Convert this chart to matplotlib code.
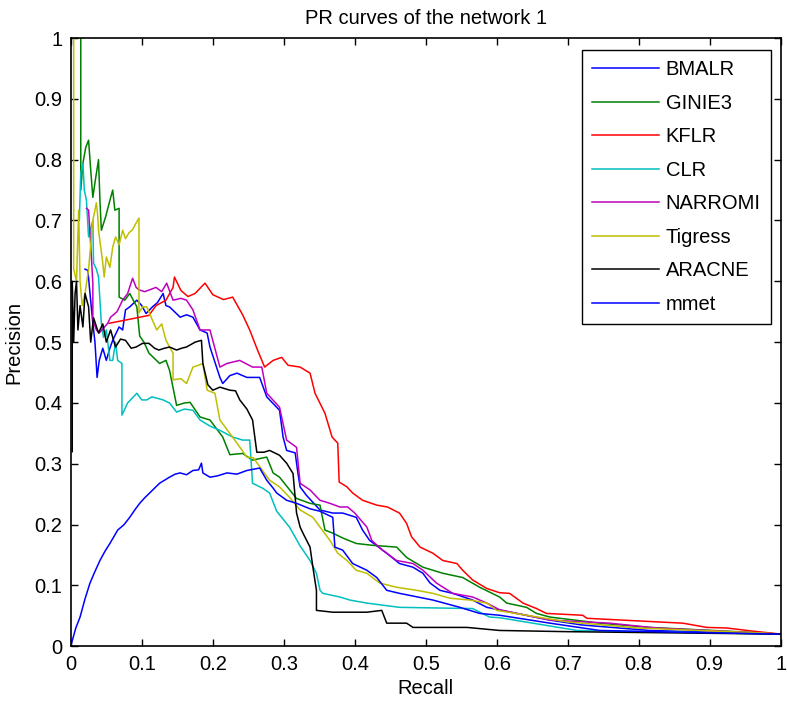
import matplotlib
matplotlib.use("Agg")
import matplotlib.pyplot as plt

plt.rcParams['font.family'] = ['Liberation Sans', 'DejaVu Sans']

# recall / precision
bmalr_r = [0.02, 0.024, 0.027, 0.031, 0.034, 0.037, 0.04, 0.045, 0.05, 0.055, 0.059, 0.068, 0.073, 0.077,
           0.083, 0.093, 0.1, 0.106, 0.115, 0.122, 0.13, 0.134, 0.139, 0.154, 0.163, 0.172, 0.182, 0.192,
           0.196, 0.21, 0.214, 0.224, 0.234, 0.248, 0.266, 0.276, 0.294, 0.299, 0.304, 0.316, 0.32, 0.323,
           0.332, 0.351, 0.369, 0.383, 0.402, 0.411, 0.421, 0.445, 0.463, 0.482, 0.496, 0.506, 0.52, 0.538,
           0.566, 0.586, 0.628, 0.675, 0.72, 0.815, 1.0]
bmalr_p = [0.62, 0.618, 0.58, 0.531, 0.5, 0.442, 0.47, 0.49, 0.47, 0.49, 0.503, 0.525, 0.52, 0.553,
           0.558, 0.569, 0.56, 0.547, 0.558, 0.565, 0.58, 0.56, 0.558, 0.541, 0.545, 0.541, 0.52, 0.515,
           0.492, 0.442, 0.432, 0.445, 0.449, 0.442, 0.442, 0.41, 0.388, 0.344, 0.322, 0.318, 0.284, 0.262,
           0.248, 0.224, 0.219, 0.219, 0.212, 0.191, 0.174, 0.153, 0.136, 0.13, 0.12, 0.104, 0.092, 0.087,
           0.076, 0.064, 0.054, 0.043, 0.035, 0.026, 0.02]

ginie_r = [0.014, 0.014, 0.017, 0.021, 0.025, 0.028, 0.031, 0.035, 0.039, 0.041, 0.043, 0.049, 0.055,
           0.059, 0.062, 0.068, 0.068, 0.076, 0.083, 0.093, 0.097, 0.103, 0.11, 0.125, 0.134, 0.139, 0.149,
           0.16, 0.168, 0.182, 0.196, 0.214, 0.224, 0.242, 0.256, 0.276, 0.285, 0.294, 0.318, 0.337, 0.351,
           0.358, 0.369, 0.383, 0.402, 0.425, 0.459, 0.473, 0.496, 0.524, 0.552, 0.576, 0.604, 0.614, 0.642,
           0.656, 0.675, 0.745, 0.815, 0.956, 1.0]
ginie_p = [1.0, 0.75, 0.794, 0.82, 0.832, 0.783, 0.738, 0.77, 0.8, 0.733, 0.684, 0.706, 0.733,
           0.75, 0.717, 0.72, 0.574, 0.569, 0.58, 0.558, 0.51, 0.5, 0.482, 0.465, 0.47, 0.454, 0.396,
           0.4, 0.401, 0.377, 0.372, 0.344, 0.315, 0.317, 0.306, 0.311, 0.285, 0.278, 0.243, 0.235, 0.232,
           0.191, 0.186, 0.178, 0.169, 0.166, 0.163, 0.146, 0.13, 0.12, 0.113, 0.097, 0.081, 0.071, 0.064,
           0.054, 0.048, 0.038, 0.031, 0.023, 0.02]

kflr_r = [0.054, 0.08, 0.11, 0.12, 0.134, 0.144, 0.146, 0.155, 0.165, 0.175, 0.189, 0.2, 0.215, 0.228,
          0.242, 0.252, 0.263, 0.273, 0.285, 0.297, 0.306, 0.323, 0.337, 0.344, 0.358, 0.368, 0.376, 0.378,
          0.389, 0.397, 0.411, 0.431, 0.446, 0.463, 0.473, 0.48, 0.492, 0.51, 0.524, 0.544, 0.552, 0.566,
          0.586, 0.604, 0.618, 0.637, 0.656, 0.67, 0.721, 0.727, 0.777, 0.862, 0.896, 0.924, 0.96, 1.0]
kflr_p = [0.531, 0.537, 0.544, 0.56, 0.569, 0.59, 0.607, 0.585, 0.575, 0.58, 0.597, 0.578, 0.57, 0.574,
          0.545, 0.52, 0.487, 0.459, 0.47, 0.475, 0.462, 0.459, 0.449, 0.416, 0.383, 0.344, 0.334, 0.27,
          0.262, 0.252, 0.24, 0.232, 0.229, 0.219, 0.202, 0.18, 0.163, 0.153, 0.141, 0.136, 0.125, 0.109,
          0.095, 0.088, 0.087, 0.071, 0.062, 0.054, 0.051, 0.046, 0.043, 0.038, 0.031, 0.03, 0.025, 0.02]

clr_r = [0.012, 0.014, 0.017, 0.019, 0.022, 0.025, 0.031, 0.032, 0.036, 0.039, 0.041, 0.043, 0.046, 0.05,
         0.055, 0.059, 0.063, 0.066, 0.072, 0.072, 0.08, 0.093, 0.1, 0.107, 0.114, 0.121, 0.13, 0.139, 0.149,
         0.16, 0.172, 0.182, 0.196, 0.21, 0.228, 0.242, 0.252, 0.256, 0.27, 0.28, 0.29, 0.308, 0.323, 0.337,
         0.346, 0.351, 0.355, 0.379, 0.393, 0.417, 0.463, 0.566, 0.59, 0.604, 0.713, 1.0]
clr_p = [0.7, 0.778, 0.794, 0.75, 0.733, 0.673, 0.7, 0.63, 0.62, 0.607, 0.569, 0.531, 0.508, 0.52,
         0.47, 0.47, 0.5, 0.47, 0.465, 0.38, 0.4, 0.416, 0.405, 0.405, 0.41, 0.408, 0.405, 0.4, 0.385,
         0.39, 0.388, 0.372, 0.362, 0.355, 0.344, 0.339, 0.339, 0.268, 0.26, 0.252, 0.222, 0.196, 0.165, 0.141,
         0.12, 0.092, 0.087, 0.081, 0.076, 0.071, 0.064, 0.062, 0.048, 0.047, 0.026, 0.02]

narromi_r = [0.022, 0.025, 0.028, 0.031, 0.031, 0.036, 0.04, 0.052, 0.056, 0.065, 0.073, 0.08, 0.087, 0.092,
             0.096, 0.104, 0.111, 0.12, 0.128, 0.135, 0.144, 0.155, 0.163, 0.172, 0.182, 0.19, 0.196, 0.21,
             0.22, 0.238, 0.256, 0.269, 0.276, 0.294, 0.304, 0.318, 0.323, 0.337, 0.351, 0.365, 0.379, 0.39,
             0.4, 0.417, 0.424, 0.439, 0.459, 0.482, 0.496, 0.515, 0.538, 0.566, 0.586, 0.604, 0.675, 0.759,
             0.825, 1.0]
narromi_p = [0.72, 0.717, 0.66, 0.597, 0.536, 0.52, 0.515, 0.531, 0.541, 0.55, 0.569, 0.58, 0.605, 0.59,
             0.586, 0.583, 0.586, 0.59, 0.583, 0.597, 0.569, 0.572, 0.569, 0.553, 0.52, 0.52, 0.52, 0.459,
             0.465, 0.47, 0.459, 0.459, 0.416, 0.393, 0.339, 0.327, 0.268, 0.257, 0.24, 0.235, 0.229, 0.229,
             0.219, 0.196, 0.174, 0.158, 0.141, 0.136, 0.125, 0.104, 0.087, 0.081, 0.071, 0.06, 0.043, 0.038,
             0.03, 0.02]

tigress_r = [0.004, 0.004, 0.008, 0.011, 0.013, 0.016, 0.02, 0.025, 0.031, 0.036, 0.038, 0.039, 0.045, 0.047,
             0.05, 0.055, 0.059, 0.063, 0.068, 0.073, 0.077, 0.082, 0.087, 0.092, 0.096, 0.096, 0.101, 0.107,
             0.115, 0.121, 0.128, 0.134, 0.14, 0.144, 0.144, 0.155, 0.163, 0.172, 0.18, 0.186, 0.192, 0.203,
             0.21, 0.224, 0.234, 0.248, 0.257, 0.27, 0.28, 0.294, 0.308, 0.323, 0.341, 0.351, 0.365, 0.376,
             0.389, 0.402, 0.417, 0.435, 0.459, 0.487, 0.51, 0.534, 0.562, 0.586, 0.6, 0.7, 0.8, 0.97, 1.0]
tigress_p = [1.0, 0.62, 0.6, 0.717, 0.6, 0.56, 0.58, 0.62, 0.7, 0.729, 0.706, 0.684, 0.63, 0.607,
             0.64, 0.623, 0.656, 0.673, 0.66, 0.684, 0.67, 0.68, 0.685, 0.696, 0.704, 0.548, 0.558, 0.558,
             0.536, 0.52, 0.53, 0.503, 0.49, 0.482, 0.438, 0.44, 0.432, 0.459, 0.462, 0.465, 0.421, 0.416,
             0.372, 0.35, 0.334, 0.311, 0.31, 0.289, 0.273, 0.262, 0.245, 0.224, 0.212, 0.196, 0.174, 0.153,
             0.141, 0.125, 0.12, 0.104, 0.097, 0.092, 0.087, 0.079, 0.076, 0.071, 0.059, 0.04, 0.03, 0.022, 0.02]

aracne_r = [0.002, 0.002, 0.004, 0.006, 0.008, 0.01, 0.013, 0.017, 0.02, 0.025, 0.028, 0.032, 0.039, 0.045,
            0.05, 0.056, 0.063, 0.07, 0.077, 0.085, 0.092, 0.101, 0.11, 0.118, 0.124, 0.132, 0.139, 0.149,
            0.156, 0.163, 0.175, 0.184, 0.186, 0.193, 0.2, 0.21, 0.224, 0.232, 0.238, 0.248, 0.256, 0.262,
            0.272, 0.28, 0.294, 0.304, 0.313, 0.318, 0.323, 0.327, 0.337, 0.341, 0.346, 0.346, 0.369, 0.417,
            0.438, 0.445, 0.473, 0.482, 0.558, 0.604, 0.7, 1.0]
aracne_p = [0.32, 0.6, 0.5, 0.58, 0.6, 0.52, 0.56, 0.525, 0.58, 0.558, 0.5, 0.54, 0.515, 0.53,
            0.5, 0.52, 0.492, 0.505, 0.503, 0.49, 0.492, 0.498, 0.498, 0.49, 0.487, 0.49, 0.492, 0.487,
            0.49, 0.492, 0.5, 0.503, 0.465, 0.43, 0.421, 0.426, 0.421, 0.42, 0.405, 0.39, 0.372, 0.319,
            0.319, 0.322, 0.314, 0.301, 0.284, 0.219, 0.196, 0.186, 0.163, 0.13, 0.092, 0.059, 0.056, 0.056,
            0.059, 0.038, 0.038, 0.031, 0.031, 0.026, 0.024, 0.02]

mmet_r = [0.0, 0.001, 0.007, 0.013, 0.02, 0.027, 0.034, 0.041, 0.048, 0.055, 0.066, 0.075, 0.083, 0.09,
          0.097, 0.104, 0.111, 0.118, 0.125, 0.132, 0.139, 0.147, 0.154, 0.163, 0.172, 0.18, 0.184, 0.186,
          0.196, 0.206, 0.22, 0.234, 0.248, 0.266, 0.276, 0.285, 0.29, 0.304, 0.318, 0.337, 0.351, 0.369,
          0.372, 0.383, 0.397, 0.417, 0.431, 0.445, 0.463, 0.51, 0.548, 0.576, 0.604, 0.675, 0.745, 0.862, 1.0]
mmet_p = [0.0, 0.005, 0.03, 0.048, 0.078, 0.104, 0.123, 0.141, 0.156, 0.169, 0.191, 0.2, 0.212, 0.224,
          0.235, 0.244, 0.252, 0.26, 0.268, 0.273, 0.278, 0.283, 0.285, 0.282, 0.289, 0.29, 0.301, 0.285,
          0.278, 0.28, 0.285, 0.283, 0.289, 0.293, 0.273, 0.26, 0.252, 0.24, 0.235, 0.226, 0.222, 0.212,
          0.163, 0.158, 0.136, 0.125, 0.113, 0.092, 0.087, 0.076, 0.064, 0.054, 0.051, 0.038, 0.026, 0.023, 0.02]

names = ['BMALR', 'GINIE3', 'KFLR', 'CLR', 'NARROMI', 'Tigress', 'ARACNE', 'mmet']
curves = [(bmalr_r, bmalr_p), (ginie_r, ginie_p), (kflr_r, kflr_p), (clr_r, clr_p),
          (narromi_r, narromi_p), (tigress_r, tigress_p), (aracne_r, aracne_p), (mmet_r, mmet_p)]
# matlab default short colours b g r c m y k b
colors = ['#0000ff', '#008000', '#ff0000', '#00bfbf', '#bf00bf', '#bfbf00', '#000000', '#0000ff']

tick_vals = [0, 0.1, 0.2, 0.3, 0.4, 0.5, 0.6, 0.7, 0.8, 0.9, 1]
tick_labels = ['0', '0.1', '0.2', '0.3', '0.4', '0.5', '0.6', '0.7', '0.8', '0.9', '1']

fig = plt.figure(figsize=(7.87, 7.04), dpi=100)
ax = fig.add_axes([0.090, 0.082, 0.902, 0.864])

for (r, p), name, c in zip(curves, names, colors):
    ax.plot(r, p, color=c, lw=1.1, label=name)

ax.set_xlim(0, 1)
ax.set_ylim(0, 1)
ax.set_xticks(tick_vals)
ax.set_xticklabels(tick_labels)
ax.set_yticks(tick_vals)
ax.set_yticklabels(tick_labels)
ax.tick_params(direction='in', top=True, right=True, length=5, width=1, labelsize=14.5, pad=6)
for s in ax.spines.values():
    s.set_linewidth(1.2)

ax.set_title('PR curves of the network 1', fontsize=14.5, pad=10)
ax.set_xlabel('Recall', fontsize=14.5, labelpad=4)
ax.set_ylabel('Precision', fontsize=14.5, labelpad=8)

leg = ax.legend(loc='upper right', bbox_to_anchor=(0.986, 0.98), borderaxespad=0,
                fontsize=14.5, handlelength=3.3, handletextpad=0.35, labelspacing=0.72,
                fancybox=False, framealpha=1, edgecolor='black', borderpad=0.5)
leg.get_frame().set_linewidth(1.0)

fig.savefig('out.png', dpi=100)
